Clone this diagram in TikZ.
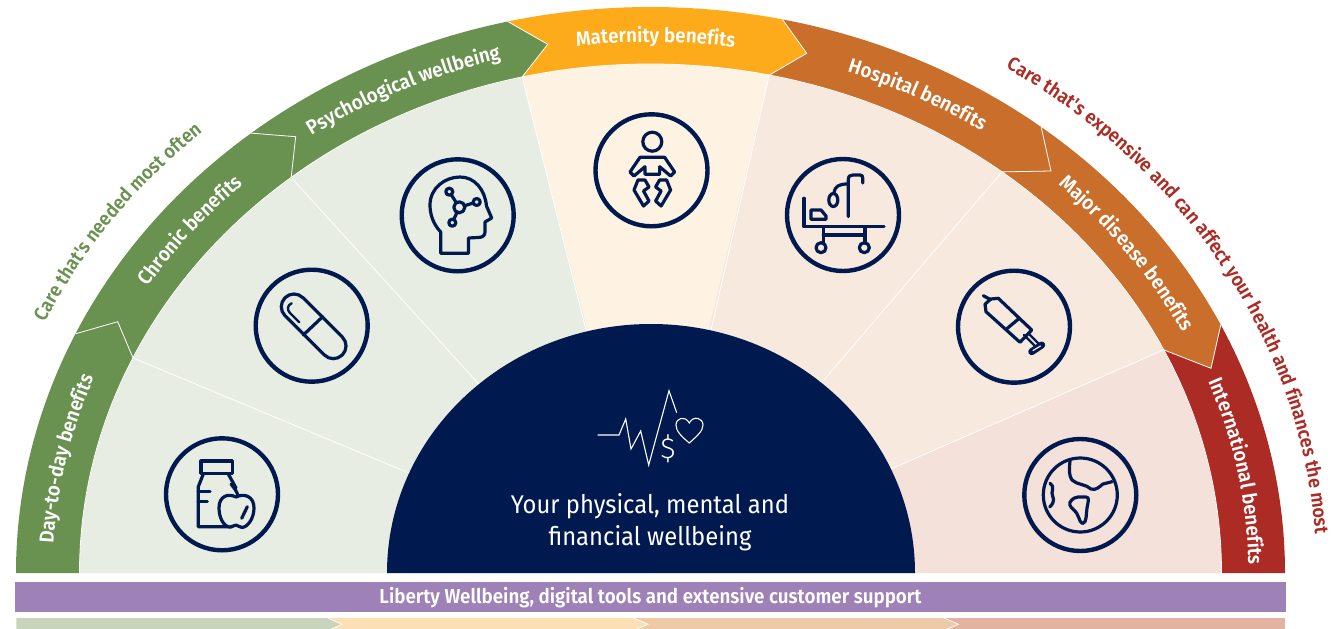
\documentclass[tikz,border=0pt]{standalone}
\usepackage{fontspec}
\setmainfont[FakeStretch=0.93]{Fira Sans}
\newfontfamily\semif[FakeStretch=0.93]{Fira Sans SemiBold}
\newfontfamily\lightf{Fira Sans Light}
\usetikzlibrary{calc,decorations.text}
\definecolor{grn}{HTML}{699150}
\definecolor{org}{HTML}{FDAB1B}
\definecolor{brn}{HTML}{C96E2B}
\definecolor{rdd}{HTML}{AC2B24}
\definecolor{pgrn}{HTML}{E8EDE3}
\definecolor{porg}{HTML}{FEF2E3}
\definecolor{pbrn}{HTML}{F7E9DD}
\definecolor{prdd}{HTML}{F4E1DA}
\definecolor{navy}{HTML}{001A4F}
\definecolor{purp}{HTML}{9E81B6}
\definecolor{bara}{HTML}{C8D4BC}
\definecolor{barb}{HTML}{FDDFB5}
\definecolor{barc}{HTML}{EECAA9}
\definecolor{bard}{HTML}{E2B3A0}
\tikzset{
  ring/.style={draw=navy,line width=4.4pt},
  ico/.style={draw=navy,line width=3.2pt,line cap=round,line join=round},
  sep/.style={draw=white,line width=0.8pt,line join=miter},
  barchev/.style={draw=white,line width=0.7pt},
}
% band segment: start angle (larger), end angle (smaller), tip, colour
\newcommand{\bandseg}[4]{\fill[#4] ($(c)+(#1:634.5pt and 566pt)$) arc[start angle=#1,end angle=#2,x radius=634.5pt,y radius=566pt] -- (#3) -- ($(c)+(#2:571pt and 509pt)$) arc[start angle=#2,end angle=#1,x radius=571pt,y radius=509pt] -- cycle;}
\newcommand{\sectorfill}[3]{\fill[#3] (c) -- ($(c)+(#1:571pt and 509pt)$) arc[start angle=#1,end angle=#2,x radius=571pt,y radius=509pt] -- cycle;}
\newcommand{\sepline}[3]{\draw[sep] ($(c)+(#1:634.5pt and 566pt)$) -- (#2) -- ($(c)+(#1:571pt and 509pt)$) -- ($($(c)+(#1:571pt and 509pt)$)!1.04!(#3)$);}
% arc text: centre angle, half span, rx, ry, format, text
\newcommand{\arctext}[6]{\path[decorate,decoration={text along path,text align=center,text={|#5|#6}}] ($(c)+(#1+#2:#3 and #4)$) arc[start angle=#1+#2,end angle=#1-#2,x radius=#3,y radius=#4];}
\begin{document}
\begin{tikzpicture}[x=1pt,y=-1pt]
\useasboundingbox (0,0) rectangle (1339,629);
\fill[white] (0,0) rectangle (1339,629);
\coordinate (c) at (650.5,573);
\coordinate (dc) at (651,573);
\coordinate (t1) at (117.7,321.7);
\coordinate (t2) at (295.7,136.7);
\coordinate (t3) at (547.7,44.3);
\coordinate (t4) at (806.7,53.3);
\coordinate (t5) at (1051,171);
\coordinate (t6) at (1211,368.3);
\coordinate (t0) at (1221.5,573);
\coordinate (s1) at (406.7,472);
\coordinate (s2) at (476,381);
\coordinate (s3) at (585,326);
\coordinate (s4) at (712,326);
\coordinate (s5) at (823,381);
\coordinate (s6) at (893,468);
% wedges
\sectorfill{180}{155}{pgrn}
\sectorfill{155}{129}{pgrn}
\sectorfill{129}{103}{pgrn}
\sectorfill{103}{78}{porg}
\sectorfill{78}{52}{pbrn}
\sectorfill{52}{26}{pbrn}
\sectorfill{26}{0}{prdd}
% bands
\bandseg{26}{0}{t0}{rdd}
\bandseg{52}{26}{t6}{brn}
\bandseg{78}{52}{t5}{brn}
\bandseg{103}{78}{t4}{org}
\bandseg{129}{103}{t3}{grn}
\bandseg{155}{129}{t2}{grn}
\bandseg{180}{155}{t1}{grn}
\draw[white,line width=0.8pt] ($(c)+(180:571pt and 509pt)$) arc[start angle=180,end angle=0,x radius=571pt,y radius=509pt];
\sepline{155}{t1}{s1}
\sepline{129}{t2}{s2}
\sepline{103}{t3}{s3}
\sepline{78}{t4}{s4}
\sepline{52}{t5}{s5}
\sepline{26}{t6}{s6}
% centre
\fill[navy] ($(dc)+(180:264pt and 249pt)$) arc[start angle=180,end angle=0,x radius=264pt,y radius=249pt] -- cycle;
\node[text=white,align=center,font=\fontsize{25.6}{32}\selectfont] (title) at (650,522) {Your physical, mental and\\financial wellbeing};
% centre icon
\draw[white,line width=1.1pt,line join=miter] (597.7,435) -- (619,435) -- (625.7,419) -- (631,449) -- (640.7,431) -- (648.7,465) -- (669,390.7) -- (676.7,412.7);
\draw[white,line width=1.1pt] (689.3,443) .. controls (681,436) and (676,431) .. (676,425) .. controls (676,418) and (685,415) .. (689.3,423) .. controls (693.5,415) and (703,418) .. (703,425) .. controls (703,431) and (697,436) .. (689.3,443) -- cycle;
\node[text=white,font=\lightf\fontsize{29}{29}\selectfont,inner sep=0pt] (dollar) at (668,449) {\$};
% band labels
\def\bandf{\semif\fontsize{20.2}{20.2}\selectfont\color{white}}
\arctext{168.2}{40}{598pt}{532pt}{\bandf}{Day-to-day benefits}
\arctext{141.5}{40}{597pt}{531pt}{\bandf}{Chronic benefits}
\arctext{115.5}{40}{597pt}{531pt}{\bandf}{Psychological wellbeing}
\arctext{89.5}{40}{597pt}{531pt}{\bandf}{Maternity benefits}
\arctext{62.5}{40}{597pt}{531pt}{\bandf}{Hospital benefits}
\arctext{35.7}{40}{597pt}{531pt}{\bandf}{Major disease benefits}
\arctext{10.5}{40}{598pt}{532pt}{\bandf}{International benefits}
\def\gf{\semif\fontsize{19.4}{19.4}\selectfont\color{grn}}
\def\rf{\semif\fontsize{19.4}{19.4}\selectfont\color{rdd}}
\arctext{144.8}{40}{668pt}{595pt}{\gf}{Care that's needed most often}
\arctext{29.7}{50}{666pt}{597pt}{\rf}{Care that's expensive and can affect your health and finances the most}
% bars
\fill[purp] (15,582) rectangle (1286,612);
\node[text=white,font=\semif\fontsize{20.2}{20.2}\selectfont] (lib) at (650.5,597.5) {Liberty Wellbeing, digital tools and extensive customer support};
\fill[bard] (16,617.5) rectangle (1285,629);
\path[fill=barc,barchev] (16,617.5) -- (943,617.5) -- (958.5,624.3) -- (943,631) -- (16,631) -- cycle;
\path[fill=barb,barchev] (16,617.5) -- (632.6,617.5) -- (648,624.3) -- (632.6,631) -- (16,631) -- cycle;
\path[fill=bara,barchev] (16,617.5) -- (327,617.5) -- (342,624.3) -- (327,631) -- (16,631) -- cycle;
% rings
\draw[ring] (222,494.3) circle[radius=56pt];
\draw[ring] (311.7,325.7) circle[radius=56pt];
\draw[ring] (457.7,215.3) circle[radius=56pt];
\draw[ring] (651.5,170.3) circle[radius=56pt];
\draw[ring] (843,215) circle[radius=56pt];
\draw[ring] (1014,326.7) circle[radius=56pt];
\draw[ring] (1080.3,495) circle[radius=56pt];
% bottle + apple
\draw[ico] (201,461) rectangle (232.3,473.3);
\draw[ico] (203.3,474) -- (198.3,486.7) -- (198.3,526.7) -- (232,526.7);
\draw[ico] (228.3,474) -- (236,488);
\draw[ico] (198.3,491.7) -- (210,491.7);
\draw[ico] (198.3,501.7) -- (207.3,501.7);
\draw[ico,fill=pgrn] (236,497) .. controls (228,493) and (219,496) .. (219,508) .. controls (219,518) and (224,527) .. (230,527) .. controls (233,527) and (234,525) .. (236,525) .. controls (238,525) and (239,527.5) .. (242,527.5) .. controls (248,527) and (254,518) .. (254,508) .. controls (254,496) and (244,493) .. (236,497) -- cycle;
\draw[ico] (231,484) .. controls (234,488) and (237,491) .. (238,496);
\draw[ico] (247.3,506.7) -- (241.7,518.3);
% pill
\draw[ico] (303,297.7) -- (342.3,337) arc[start angle=45,end angle=-135,radius=12.7pt] -- (285,315.7) arc[start angle=225,end angle=45,radius=12.7pt] -- cycle;
\draw[ico] (303.3,335) -- (322.7,316.7);
\draw[ico,line width=2.4pt] (291.7,303.3) .. controls (287,305) and (287,310) .. (290,313) -- (299.3,322.3);
% head
\draw[ico] (440.7,253.3) -- (440.7,232) .. controls (433,224) and (430,214) .. (430,205) .. controls (430,188) and (445,177) .. (460,177) .. controls (475,177) and (485,190) .. (486.5,206) -- (491.7,218) -- (485,222) -- (485,232) .. controls (485,236) and (482,237.5) .. (478,237.5) -- (468.5,238) -- (468.5,253.3) -- cycle;
\draw[ico] (459.3,207.3) -- (449.3,191.7);
\draw[ico] (459.3,207.3) -- (476.7,202);
\draw[ico] (459.3,207.3) -- (452.3,222.7);
\draw[ico,fill=pgrn] (459.3,207.3) circle[radius=5.5pt];
\draw[ico,fill=pgrn] (449.3,191.7) circle[radius=3.5pt];
\draw[ico,fill=pgrn] (476.7,202) circle[radius=3.5pt];
\draw[ico,fill=pgrn] (452.3,222.7) circle[radius=3.5pt];
% baby
\draw[ico] (652.3,141.7) circle[radius=9.5pt];
\draw[ico] (640,157.3) -- (630,172) -- (634,176) -- (645,166.7) -- (645,174.3) -- (659.6,174.3) -- (659.6,166.7) -- (670.6,176) -- (674.6,172) -- (664.6,157.3) -- cycle;
\draw[ico] (638,180) -- (645,180) -- (649,187) -- (643.5,191) -- (649,201) -- (643.5,206) -- (634,190) -- cycle;
\draw[ico] (666.6,180) -- (659.6,180) -- (655.6,187) -- (661.1,191) -- (655.6,201) -- (661.1,206) -- (670.6,190) -- cycle;
% hospital bed
\draw[ico] (804,198.3) -- (804,226.7) -- (884,226.7);
\draw[ico] (823.3,226.7) -- (823.3,243);
\draw[ico] (865,226.7) -- (865,243);
\draw[ico] (823.3,235) -- (865,235);
\draw[ico] (821,247.7) circle[radius=5pt];
\draw[ico] (864.3,247.7) circle[radius=5pt];
\draw[ico] (811,210) -- (811,219.3) -- (826,219.3) -- (826,216) -- (821,210) -- cycle;
\draw[ico] (833.3,200) ellipse[x radius=4.5pt,y radius=6.5pt];
\draw[ico] (848.3,216.7) -- (848.3,180) .. controls (848.3,176) and (850,175) .. (853,175) -- (860,175) .. controls (862,175) and (862.7,176) .. (862.7,178) -- (862.7,183);
\draw[ico] (834,193) .. controls (835,186) and (839,184) .. (848,184);
% syringe
\draw[ico] (990.7,299) -- (998.3,298.3) -- (1031.7,330) -- (1020,342.3) -- (986,311.7) -- (985,304.3) -- cycle;
\draw[ico] (983.3,295.7) -- (990.7,299.7);
\draw[ico] (1007.3,328.3) -- (1019.3,318.3);
\draw[ico,line width=2.4pt] (1024,335) -- (1036,347);
\draw[ico,line width=2.4pt] (1029,334) -- (1038,343);
\draw[ico,line width=7pt] (1031.7,351.7) -- (1041.7,345);
\draw[pbrn,line width=1.2pt,line cap=round] (1033,350.5) -- (1040.5,346);
% globe
\draw[ico] (1080.3,495) circle[radius=37pt];
\draw[ico] (1070,461) .. controls (1069,470) and (1069,476) .. (1072,480) .. controls (1077,485) and (1086,484) .. (1091,489) .. controls (1096,491) and (1100,486) .. (1103,484) -- (1112,481.7);
\draw[ico] (1071.7,500) .. controls (1068,503) and (1070,507) .. (1073,509) .. controls (1079,513) and (1079,523) .. (1082.5,523.5) .. controls (1087,523) and (1086,514) .. (1087,508) .. controls (1088,502) and (1090,497) .. (1086,497) -- (1078,497) .. controls (1075,497.5) and (1073,498.5) .. (1071.7,500) -- cycle;
\draw[ico] (1050,483.3) .. controls (1056,488) and (1050,492) .. (1052.7,496) .. controls (1055,501) and (1052,505) .. (1049.7,507);
\end{tikzpicture}
\end{document}
